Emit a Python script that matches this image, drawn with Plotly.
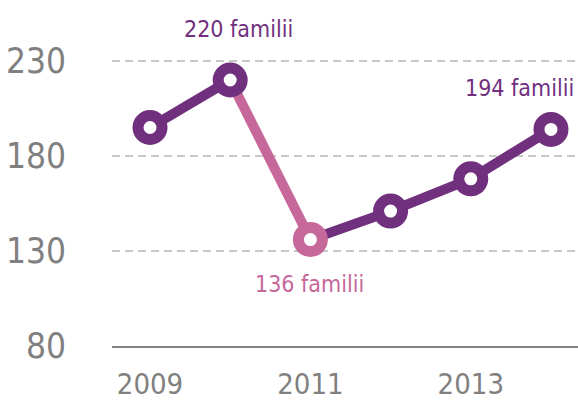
import plotly.graph_objects as go

# Families per year
years = [2009, 2010, 2011, 2012, 2013, 2014]
families = [195, 220, 136, 151, 168, 194]
label_text = "familii"

purple = "#70307D"
pink = "#C6689A"
grey_text = "#808080"
font_family = "DejaVu Sans Condensed, Liberation Sans Narrow, sans-serif"

fig = go.Figure()

# Line segments: the drop 2010->2011 is highlighted in pink
segments = [(0, 2, purple), (1, 3, pink), (2, 6, purple)]
for start, stop, color in segments:
    fig.add_trace(go.Scatter(
        x=years[start:stop], y=families[start:stop],
        mode="lines", line=dict(color=color, width=10),
        hoverinfo="skip", cliponaxis=False, showlegend=False,
    ))

marker_colors = [pink if y == 2011 else purple for y in years]
fig.add_trace(go.Scatter(
    x=years, y=families, mode="markers",
    marker=dict(size=24, color="white",
                line=dict(color=marker_colors, width=11)),
    cliponaxis=False, showlegend=False,
))

# Value labels
label_specs = {2010: (8, 51, "center", purple),
               2011: (-1, -44, "center", pink),
               2014: (-88, 41, "left", purple)}
for yr, (dx, dy, anchor, color) in label_specs.items():
    i = years.index(yr)
    fig.add_annotation(
        x=yr, y=families[i], text=f"{families[i]} {label_text}",
        showarrow=False, xshift=dx, yshift=dy, xanchor=anchor, yanchor="middle",
        font=dict(family=font_family, size=23, color=color),
    )

fig.update_layout(
    width=578, height=403,
    margin=dict(l=112, r=0, t=42, b=57),
    paper_bgcolor="white", plot_bgcolor="white",
    font=dict(family=font_family, color=grey_text),
    xaxis=dict(
        range=[2008.526, 2014.337], tickvals=[2009, 2011, 2013],
        showgrid=False, zeroline=False, automargin=False,
        showline=True, linecolor="#808080", linewidth=2,
        ticks="", ticklabelstandoff=11,
        tickfont=dict(size=29, color=grey_text),
    ),
    yaxis=dict(
        range=[80, 240], tickvals=[80, 130, 180, 230],
        showgrid=True, gridcolor="#C8C8C8", gridwidth=2, griddash="8px,5px",
        zeroline=False, showline=False, ticks="", automargin=False,
        ticklabelstandoff=45,
        tickfont=dict(size=35, color=grey_text),
    ),
)

fig.write_html("out.html")
